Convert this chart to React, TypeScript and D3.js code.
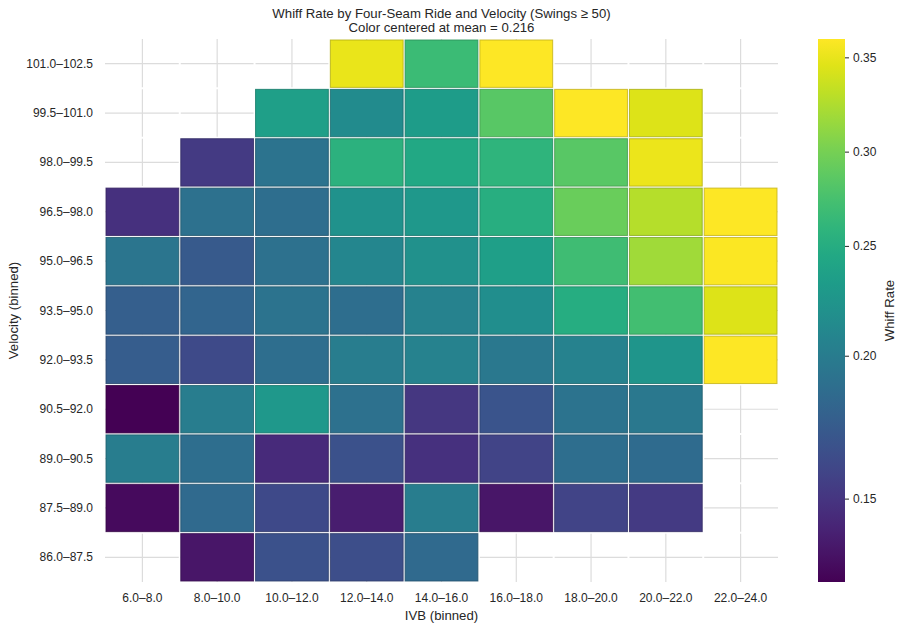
import React from 'react';
import * as d3 from 'd3';

// IVB bins along x, velocity bins along y (listed top row first)
const ivbBins = ['6.0–8.0', '8.0–10.0', '10.0–12.0', '12.0–14.0', '14.0–16.0', '16.0–18.0', '18.0–20.0', '20.0–22.0', '22.0–24.0'];
const veloBins = ['101.0–102.5', '99.5–101.0', '98.0–99.5', '96.5–98.0', '95.0–96.5', '93.5–95.0', '92.0–93.5', '90.5–92.0', '89.0–90.5', '87.5–89.0', '86.0–87.5'];

// whiff rate per cell, one row per velocity bin (null = fewer than 50 swings)
const whiffRate: (number | null)[][] = [
  [null, null, null, 0.350, 0.268, 0.360, null, null, null],
  [null, null, 0.233, 0.212, 0.230, 0.285, 0.359, 0.345, null],
  [null, 0.153, 0.193, 0.256, 0.245, 0.259, 0.285, 0.351, null],
  [0.147, 0.191, 0.189, 0.219, 0.225, 0.253, 0.294, 0.328, 0.360],
  [0.195, 0.174, 0.191, 0.208, 0.217, 0.233, 0.271, 0.319, 0.358],
  [0.178, 0.182, 0.193, 0.189, 0.205, 0.214, 0.250, 0.273, 0.345],
  [0.176, 0.164, 0.189, 0.201, 0.205, 0.197, 0.205, 0.222, 0.359],
  [0.121, 0.201, 0.225, 0.191, 0.151, 0.170, 0.193, 0.197, null],
  [0.201, 0.189, 0.144, 0.168, 0.147, 0.159, 0.189, 0.187, null],
  [0.126, 0.186, 0.163, 0.136, 0.201, 0.132, 0.159, 0.153, null],
  [null, 0.132, 0.168, 0.166, 0.186, null, null, null, null],
];

const meanRate = 0.216;
const cbarTicks = [0.15, 0.2, 0.25, 0.3, 0.35];

const W = 904;
const H = 630;
const plot = { left: 105, right: 778, top: 39, bottom: 582 };
const cbar = { x: 818, w: 27 };
const FONT = '"Liberation Sans", Arial, Helvetica, sans-serif';
const TEXT = '#262626';
const TICK_SIZE = 12;
const LABEL_SIZE = 13.2;

export default function App() {
  const flat = whiffRate.flat().filter((v): v is number => v !== null);
  const vmin = d3.min(flat) as number;
  const vmax = d3.max(flat) as number;

  // two-slope norm: vmin -> 0, mean -> 0.5, vmax -> 1
  const norm = d3.scaleLinear().domain([vmin, meanRate, vmax]).range([0, 0.5, 1]).clamp(true);
  const color = (v: number) => d3.interpolateViridis(norm(v));

  const x = d3.scaleBand().domain(ivbBins).range([plot.left, plot.right]);
  const y = d3.scaleBand().domain(veloBins).range([plot.top, plot.bottom]);
  const cy = d3.scaleLinear().domain([vmin, meanRate, vmax]).range([plot.bottom, (plot.top + plot.bottom) / 2, plot.top]);

  const bw = x.bandwidth();
  const bh = y.bandwidth();
  const stops = d3.range(0, 1.0001, 0.05);
  const midX = (plot.left + plot.right) / 2;
  const midY = (plot.top + plot.bottom) / 2;

  return (
    <svg width={W} height={H} style={{ position: 'absolute', left: 0, top: 0, background: '#fff' }} fontFamily={FONT}>
      <defs>
        <linearGradient id="viridis-bar" x1="0" y1="1" x2="0" y2="0">
          {stops.map((t) => (
            <stop key={t} offset={`${t * 100}%`} stopColor={d3.interpolateViridis(t)} />
          ))}
        </linearGradient>
      </defs>

      {/* grid at bin centres */}
      <g stroke="#dcdcdc" strokeWidth={1.2}>
        {ivbBins.map((b) => (
          <line key={b} x1={x(b)! + bw / 2} x2={x(b)! + bw / 2} y1={plot.top} y2={plot.bottom} />
        ))}
        {veloBins.map((b) => (
          <line key={b} x1={plot.left} x2={plot.right} y1={y(b)! + bh / 2} y2={y(b)! + bh / 2} />
        ))}
      </g>

      {/* white cell separators, also over empty cells */}
      <g stroke="#fff" strokeWidth={2}>
        {ivbBins.slice(1).map((b) => (
          <line key={b} x1={x(b)!} x2={x(b)!} y1={plot.top} y2={plot.bottom} />
        ))}
        {veloBins.slice(1).map((b) => (
          <line key={b} x1={plot.left} x2={plot.right} y1={y(b)!} y2={y(b)!} />
        ))}
      </g>

      {/* heatmap cells */}
      <g>
        {whiffRate.map((row, i) =>
          row.map((v, j) => {
            if (v === null) return null;
            const c = color(v);
            return (
              <rect
                key={`${i}-${j}`}
                x={x(ivbBins[j])! + 1}
                y={y(veloBins[i])! + 1}
                width={bw - 2}
                height={bh - 2}
                fill={c}
                stroke={d3.color(c)!.darker(0.7).formatHex()}
                strokeOpacity={0.85}
                strokeWidth={1}
              />
            );
          })
        )}
      </g>

      {/* axis tick labels */}
      <g fontSize={TICK_SIZE} fill={TEXT}>
        {veloBins.map((b) => (
          <text key={b} x={93} y={y(b)! + bh / 2} textAnchor="end" dominantBaseline="central">
            {b}
          </text>
        ))}
        {ivbBins.map((b) => (
          <text key={b} x={x(b)! + bw / 2} y={598} textAnchor="middle" dominantBaseline="central">
            {b}
          </text>
        ))}
      </g>

      {/* axis titles */}
      <text x={midX} y={615} textAnchor="middle" dominantBaseline="central" fontSize={LABEL_SIZE} fill={TEXT}>
        IVB (binned)
      </text>
      <text
        transform={`translate(13,${midY}) rotate(-90)`}
        textAnchor="middle"
        dominantBaseline="central"
        fontSize={LABEL_SIZE}
        fill={TEXT}
      >
        Velocity (binned)
      </text>

      {/* title */}
      <text x={midX} y={13} textAnchor="middle" dominantBaseline="central" fontSize={LABEL_SIZE} fill={TEXT}>
        Whiff Rate by Four-Seam Ride and Velocity (Swings ≥ 50)
      </text>
      <text x={midX} y={27.5} textAnchor="middle" dominantBaseline="central" fontSize={LABEL_SIZE} fill={TEXT}>
        {`Color centered at mean = ${meanRate.toFixed(3)}`}
      </text>

      {/* colorbar */}
      <rect x={cbar.x} y={plot.top} width={cbar.w} height={plot.bottom - plot.top} fill="url(#viridis-bar)" />
      <g fontSize={TICK_SIZE} fill={TEXT}>
        {cbarTicks.map((t) => (
          <g key={t} transform={`translate(${cbar.x + cbar.w},${cy(t)})`}>
            <line x1={0} x2={4} stroke={TEXT} strokeWidth={1} />
            <text x={8} dominantBaseline="central">
              {t.toFixed(2)}
            </text>
          </g>
        ))}
      </g>
      <text
        transform={`translate(889,${midY}) rotate(-90)`}
        textAnchor="middle"
        dominantBaseline="central"
        fontSize={LABEL_SIZE}
        fill={TEXT}
      >
        Whiff Rate
      </text>
    </svg>
  );
}
